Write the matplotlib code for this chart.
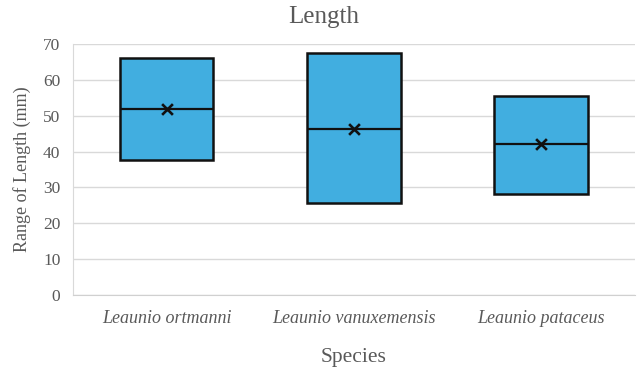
import matplotlib
matplotlib.use("Agg")
import matplotlib.pyplot as plt

species = ["Leaunio ortmanni", "Leaunio vanuxemensis", "Leaunio pataceus"]
mins = [37.6, 25.7, 28.3]
maxs = [66.0, 67.4, 55.4]
medians = [51.9, 46.4, 42.0]
means = [51.9, 46.4, 42.0]
yticks = [0, 10, 20, 30, 40, 50, 60, 70]

plt.rcParams['font.family'] = ['Liberation Serif', 'DejaVu Serif']
txt = '#595959'

fig = plt.figure(figsize=(6.42, 3.73), dpi=100)
ax = fig.add_axes([0.1137, 0.209, 0.875, 0.673])

x = list(range(len(species)))
heights = [hi - lo for lo, hi in zip(mins, maxs)]
ax.bar(x, heights, bottom=mins, width=0.5, color='#41AEE0', edgecolor='#111111', linewidth=1.8, zorder=3)
ax.hlines(medians, [i - 0.25 for i in x], [i + 0.25 for i in x], colors='#111111', linewidth=1.6, zorder=4)
ax.scatter(x, means, marker='x', s=60, color='#111111', linewidths=1.9, zorder=5)

ax.set_xlim(-0.5, 2.5)
ax.set_ylim(0, 70)
ax.set_yticks(yticks)
ax.set_xticks(x)
ax.set_xticklabels(species, style='italic', fontsize=13, color=txt)
ax.tick_params(axis='y', labelsize=12.5, colors=txt, length=0, pad=9)
ax.tick_params(axis='x', length=0, pad=11)
ax.yaxis.grid(True, color='#d9d9d9', linewidth=1, zorder=0)
ax.set_axisbelow(True)
for s in ['top', 'right']:
    ax.spines[s].set_visible(False)
ax.spines['left'].set_color('#d9d9d9')
ax.spines['bottom'].set_color('#d0d0d0')

ax.set_ylabel('Range of Length (mm)', fontsize=13, color=txt, labelpad=9)
ax.set_xlabel('Species', fontsize=15.5, color=txt, labelpad=15)
fig.text(0.505, 1 - 17 / 373, 'Length', fontsize=18, color=txt, ha='center', va='center')

fig.savefig('out.png', dpi=100)
